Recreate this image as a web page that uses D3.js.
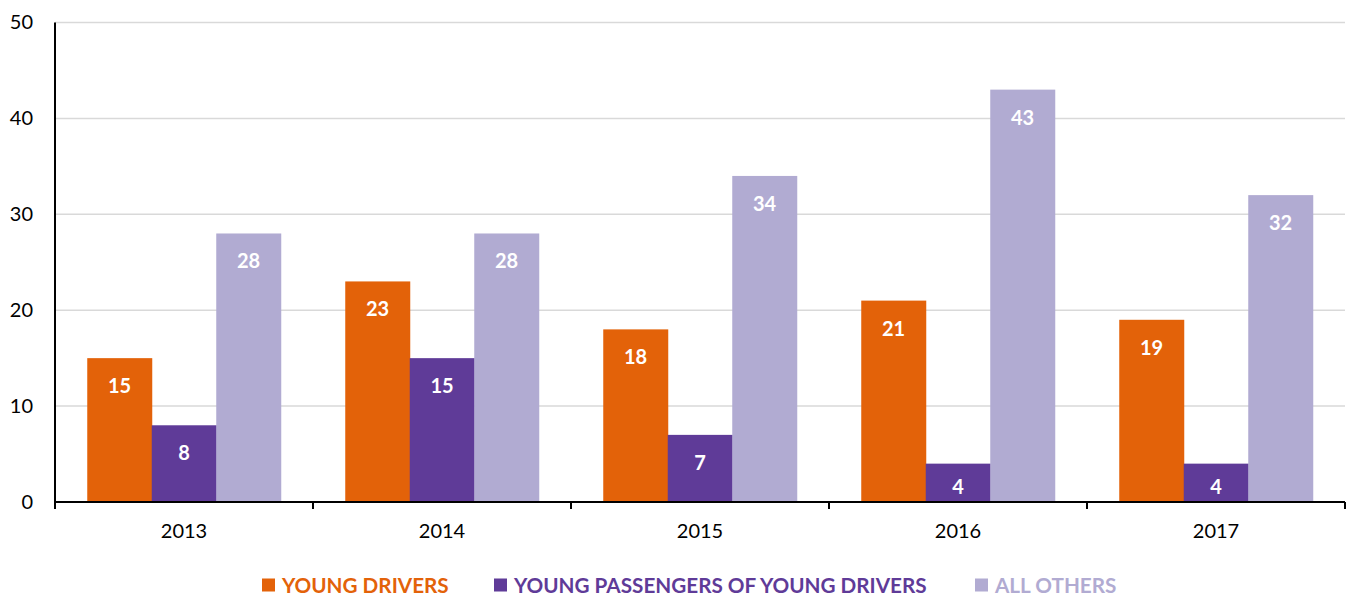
<!DOCTYPE html>
<html>
<head>
<meta charset="utf-8">
<script src="https://cdn.jsdelivr.net/npm/d3@7"></script>
<style>
  body { margin: 0; background: #fff; }
  svg { font-family: Lato, "Open Sans", sans-serif; }
</style>
</head>
<body>
<script>
// chart data
let years = ["2013", "2014", "2015", "2016", "2017"];
let seriesNames = ["YOUNG DRIVERS", "YOUNG PASSENGERS OF YOUNG DRIVERS", "ALL OTHERS"];
let youngDrivers = [15, 23, 18, 21, 19];
let youngPassengers = [8, 15, 7, 4, 4];
let allOthers = [28, 28, 34, 43, 32];
let yTicks = [0, 10, 20, 30, 40, 50];

let colors = ["#e36209", "#5f3b98", "#b1abd2"];
let seriesValues = [youngDrivers, youngPassengers, allOthers];

// canvas
let width = 1347;
let height = 597;
let margin = {left: 55, right: 2, top: 22.5, bottom: 95};
let innerW = width - margin.left - margin.right;
let innerH = height - margin.top - margin.bottom;

let svg = d3.select("body").append("svg")
    .attr("width", width)
    .attr("height", height);

let chartGroup = svg.append("g")
    .attr("transform", "translate(" + margin.left + "," + margin.top + ")");

// scales
let x = d3.scaleBand()
    .domain(years)
    .range([0, innerW]);

let x1 = d3.scaleBand()
    .domain(d3.range(seriesNames.length))
    .range([0, x.bandwidth()])
    .paddingOuter(0.5)
    .paddingInner(0);

let y = d3.scaleLinear()
    .domain([0, 50])
    .range([innerH, 0]);

// gridlines
chartGroup.append("g")
    .selectAll("line")
    .data(yTicks.filter((d) => d > 0))
    .join("line")
    .attr("x1", 0)
    .attr("x2", innerW)
    .attr("y1", (d) => y(d))
    .attr("y2", (d) => y(d))
    .attr("stroke", "#d9d9d9")
    .attr("stroke-width", 1.5);

// bars
let groups = chartGroup.selectAll(".year")
    .data(years)
    .join("g")
    .attr("class", "year")
    .attr("transform", (d) => "translate(" + x(d) + ",0)");

let barData = (yr, i) => seriesValues.map((vals, s) => ({s: s, v: vals[i]}));

groups.selectAll("rect")
    .data(barData)
    .join("rect")
    .attr("x", (d) => x1(d.s))
    .attr("width", x1.bandwidth() + 0.5)
    .attr("y", (d) => y(d.v))
    .attr("height", (d) => innerH - y(d.v))
    .attr("fill", (d) => colors[d.s]);

// value labels inside the bar ends
groups.selectAll("text")
    .data(barData)
    .join("text")
    .attr("x", (d) => x1(d.s) + x1.bandwidth() / 2)
    .attr("y", (d) => {
        let top = y(d.v);
        let h = innerH - top;
        return h < 54 ? top + h / 2 + 3 : top + 27;
    })
    .attr("text-anchor", "middle")
    .attr("dominant-baseline", "central")
    .attr("fill", "#fff")
    .attr("font-weight", "bold")
    .attr("font-size", 20)
    .text((d) => d.v);

// y axis
let yAxis = d3.axisLeft(y).tickValues(yTicks).tickSize(0).tickPadding(22);
let yG = chartGroup.append("g").call(yAxis);
yG.select(".domain").remove();
yG.selectAll("text")
    .attr("font-size", 20)
    .attr("font-family", "Lato, sans-serif")
    .attr("fill", "#000");

chartGroup.append("line")
    .attr("x1", 0).attr("x2", 0)
    .attr("y1", 0).attr("y2", innerH)
    .attr("stroke", "#000")
    .attr("stroke-width", 2);

// x axis
let xAxis = d3.axisBottom(x).tickSize(0).tickPadding(22);
let xG = chartGroup.append("g")
    .attr("transform", "translate(0," + innerH + ")")
    .call(xAxis);
xG.select(".domain").remove();
xG.selectAll("text")
    .attr("font-size", 20)
    .attr("font-family", "Lato, sans-serif")
    .attr("fill", "#000");

chartGroup.append("line")
    .attr("x1", 0).attr("x2", innerW)
    .attr("y1", innerH).attr("y2", innerH)
    .attr("stroke", "#000")
    .attr("stroke-width", 2);

// boundary ticks between categories
chartGroup.append("g")
    .selectAll("line")
    .data(d3.range(years.length + 1))
    .join("line")
    .attr("x1", (i) => i * x.step())
    .attr("x2", (i) => i * x.step())
    .attr("y1", innerH)
    .attr("y2", innerH + 7)
    .attr("stroke", "#000")
    .attr("stroke-width", 2);

// legend
let legendX = [262, 494, 975];
let legend = svg.append("g")
    .attr("transform", "translate(0,585)");

let items = legend.selectAll("g")
    .data(seriesNames)
    .join("g")
    .attr("transform", (d, i) => "translate(" + legendX[i] + ",0)");

items.append("rect")
    .attr("x", 0)
    .attr("y", -6.5)
    .attr("width", 13)
    .attr("height", 13)
    .attr("fill", (d, i) => colors[i]);

items.append("text")
    .attr("x", 20)
    .attr("y", 0)
    .attr("dominant-baseline", "central")
    .attr("font-size", 20.7)
    .attr("font-weight", "bold")
    .attr("fill", (d, i) => colors[i])
    .text((d) => d);
</script>
</body>
</html>
